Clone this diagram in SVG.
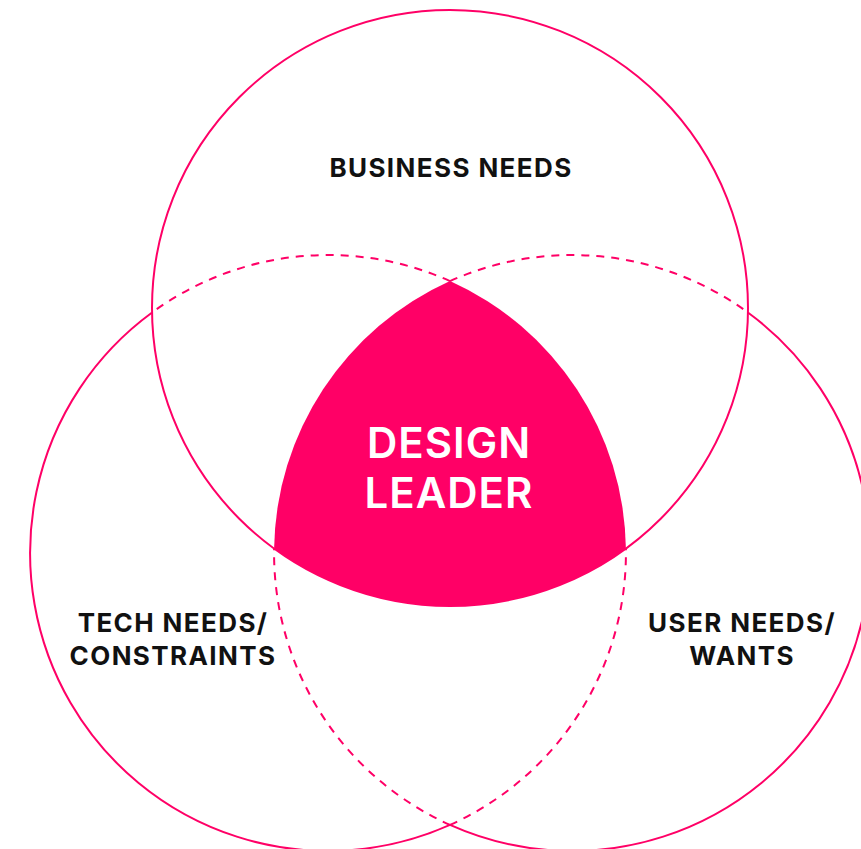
<svg xmlns="http://www.w3.org/2000/svg" width="861" height="849" viewBox="0 0 861 849">
  <style>
    .ring { fill: none; stroke: #FF0066; stroke-width: 2; }
    .dash { fill: none; stroke: #FF0066; stroke-width: 2; stroke-dasharray: 8 7; }
    .label { font-family: Inter, "Liberation Sans", sans-serif; font-weight: 700; font-size: 26px; letter-spacing: 1.4px; fill: #111111; text-anchor: middle; }
    .core { font-family: Inter, "Liberation Sans", sans-serif; font-weight: 600; font-size: 42px; letter-spacing: 1px; fill: #FFFFFF; text-anchor: middle; }
  </style>
  <rect width="861" height="849" fill="#FFFFFF"/>

  <!-- overlap of all three circles -->
  <g id="design-leader">
    <path d="M 450 281.1 A 298 298 0 0 0 274.1 548.5 A 298 298 0 0 0 625.9 548.5 A 298 298 0 0 0 450 281.1 Z" fill="#FF0066"/>
    <text class="core" x="449" y="458">DESIGN</text>
    <text class="core" x="449" y="508">LEADER</text>
  </g>

  <g id="circles">
    <!-- business circle, drawn whole -->
    <circle class="ring" cx="450" cy="308" r="298"/>
    <!-- tech circle: solid outside the others, dashed inside -->
    <path class="ring" d="M 152.1 312.5 A 298 298 0 0 0 450 824.9"/>
    <path class="dash" d="M 450 824.9 A 298 298 0 0 0 625.9 548.5"/>
    <path class="dash" d="M 450 281.1 A 298 298 0 0 0 152.1 312.5"/>
    <!-- user circle -->
    <path class="ring" d="M 747.9 312.5 A 298 298 0 0 1 450 824.9"/>
    <path class="dash" d="M 450 824.9 A 298 298 0 0 1 274.1 548.5"/>
    <path class="dash" d="M 450 281.1 A 298 298 0 0 1 747.9 312.5"/>
  </g>

  <g id="business-needs">
    <text class="label" x="451" y="177">BUSINESS NEEDS</text>
  </g>
  <g id="tech-needs">
    <text class="label" x="173" y="632">TECH NEEDS/</text>
    <text class="label" x="173" y="665">CONSTRAINTS</text>
  </g>
  <g id="user-needs">
    <text class="label" x="742" y="632">USER NEEDS/</text>
    <text class="label" x="742" y="665">WANTS</text>
  </g>
</svg>
